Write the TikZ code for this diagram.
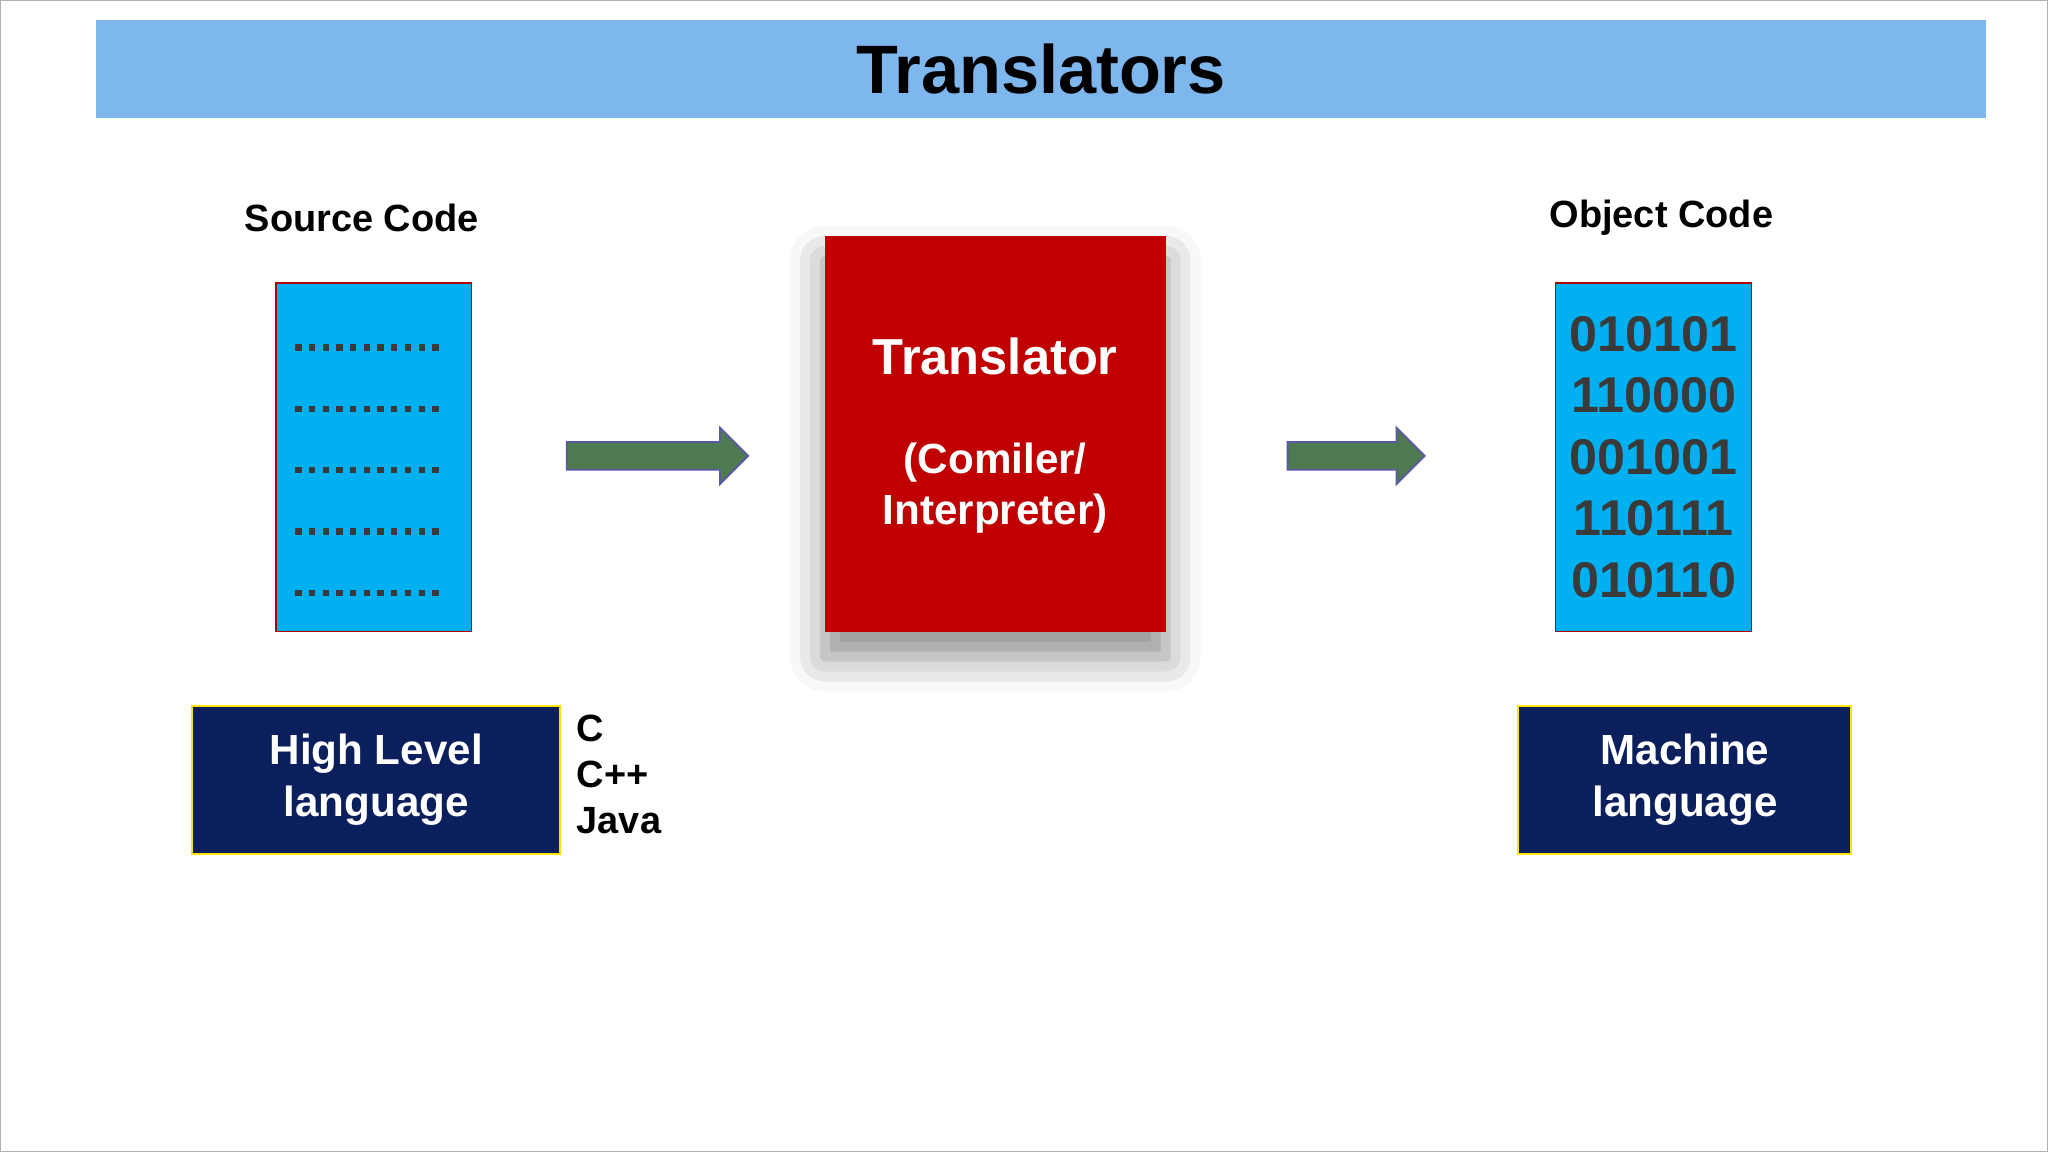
\documentclass[tikz,border=0pt]{standalone}
\usepackage{fontspec}
\setmainfont{Liberation Sans}
\usetikzlibrary{shapes.arrows,shadows.blur,positioning}
\definecolor{barblue}{HTML}{7EB6EE}
\definecolor{codeblue}{HTML}{00B0F0}
\definecolor{boxred}{HTML}{C00000}
\definecolor{navy}{HTML}{0A1F5C}
\definecolor{arrgreen}{HTML}{4F7A50}
\definecolor{digitgray}{HTML}{3A3A3A}
\begin{document}
\begin{tikzpicture}[x=0.01306cm,y=-0.01306cm,font=\bfseries]
  \tikzstyle{codebox}=[draw=red!70!black,fill=codeblue,line width=0.5pt,
                       minimum width=1.959cm,minimum height=3.487cm,inner sep=0]
  \tikzstyle{langbox}=[draw=yellow!85!orange,fill=navy,text=white,line width=0.6pt,
                       minimum height=1.476cm,align=center,font=\fontsize{12}{15}\bfseries\selectfont]
  \tikzstyle{flow}=[single arrow,fill=arrgreen,draw=gray!70!blue,line width=0.5pt,
                    inner xsep=0,inner ysep=0.13cm,text width=0,
                    single arrow head extend=0.144cm,minimum height=1.815cm]
  \tikzstyle{dots}=[draw=digitgray,line width=1.8pt,dash pattern=on 1.8pt off 2.1pt]
  \tikzstyle{label}=[font=\fontsize{10.8}{13}\bfseries\selectfont]

  % frame and title
  \path[use as bounding box,draw=gray!60] (0.5,0.5) rectangle (1567.5,881.5);
  \node[fill=barblue,minimum width=18.90cm,minimum height=0.98cm,inner sep=0,
        font=\fontsize{19.5}{23}\bfseries\selectfont] (title) at (797,53) {Translators};

  % source side
  \node[label] (srclabel) at (277,167) {Source Code};
  \node[codebox] (src) at (286,350) {};
  \foreach \y in {266,313,360,407,454}
    \draw[dots] (226,\y) -- (341,\y);
  \node[langbox,minimum width=3.683cm] (high) at (288,597) {High Level\\language};
  \node[label,anchor=north west,align=left,inner sep=0] (langs) at (441,547)
    {\fontsize{10.8}{13.8}\bfseries\selectfont C\\C++\\Java};

  % translator
  \node[fill=boxred,minimum width=3.409cm,minimum height=3.957cm,inner sep=0,
        blur shadow={shadow xshift=0pt,shadow yshift=-0.25cm,shadow blur radius=0.35cm,shadow opacity=45}]
        (trans) at (762,332) {};
  \node[text=white,font=\fontsize{14.4}{17}\bfseries\selectfont] (transtitle) at (762,273) {Translator};
  \node[text=white,align=center,font=\fontsize{12}{14.5}\bfseries\selectfont] (transsub) at (762,374)
        {(Comiler/\\Interpreter)};

  % object side
  \node[label] (objlabel) at (1272,167) {Object Code};
  \node[codebox,text=digitgray,align=center,
        font=\fontsize{14.3}{17.5}\bfseries\selectfont] (obj) at (1266,350)
        {010101\\110000\\001001\\110111\\010110};
  \node[langbox,minimum width=3.330cm] (mach) at (1290,597) {Machine\\language};

  % arrows
  \node[flow] (a1) at (498,349) {};
  \node[flow,minimum height=1.371cm] (a2) at (1033,349) {};
\end{tikzpicture}
\end{document}
